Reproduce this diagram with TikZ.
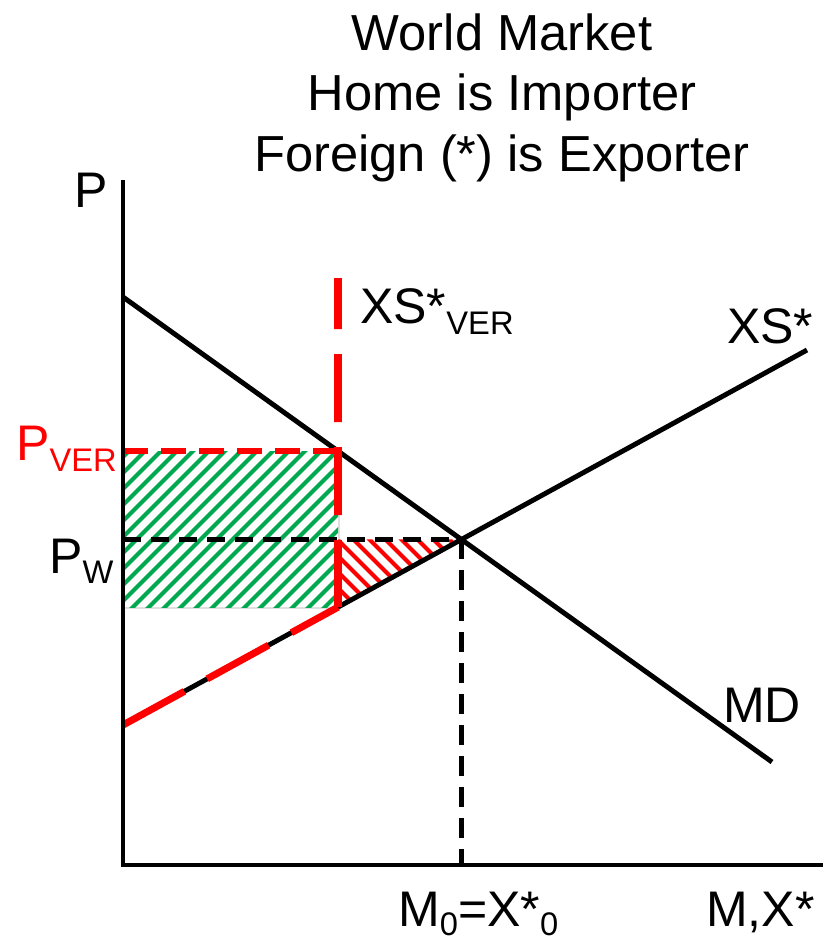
\documentclass[tikz,border=0pt]{standalone}
\usepackage{fontspec}
\setmainfont{Liberation Sans}
\definecolor{hgreen}{RGB}{0,168,80}
\definecolor{hred}{RGB}{255,0,0}
\newcommand{\subtxt}[2]{\raisebox{-#1}{\fontsize{24.5}{28}\selectfont #2}}
\begin{document}
\begin{tikzpicture}[x=0.75pt,y=-0.75pt,
  lbl/.style={inner sep=0pt,anchor=base west,font=\fontsize{37.5}{45}\selectfont},
  ttl/.style={inner sep=0pt,anchor=base,font=\fontsize{38}{46}\selectfont},
  curveline/.style={line width=3.7pt,black},
  axisline/.style={line width=3.6pt,black},
  blackdashH/.style={line width=3.8pt,black,dash pattern=on 13.5pt off 7.5pt},
  blackdashV/.style={line width=3.8pt,black,dash pattern=on 15pt off 8.25pt},
  reddashV/.style={line width=5.8pt,hred,dash pattern=on 51pt off 18.75pt,dash phase=12.75pt},
  reddashS/.style={line width=5.3pt,hred,dash pattern=on 52.5pt off 19.5pt},
  reddashH/.style={line width=4.5pt,hred,dash pattern=on 18.75pt off 9.75pt},
  greenhatch/.style={line width=3pt,hgreen},
  redhatch/.style={line width=3pt,hred}]
\useasboundingbox (0,0) rectangle (825,940);

% key points
\coordinate (O) at (123,865);
\coordinate (Ytop) at (123,180);
\coordinate (Xend) at (823,865);
\coordinate (MDa) at (123,297);
\coordinate (MDb) at (772,762);
\coordinate (XSa) at (123,725);
\coordinate (XSb) at (807,350);
\coordinate (V1) at (338,0);
\coordinate (V2) at (338,900);
\coordinate (E) at (intersection of MDa--MDb and XSa--XSb);
\coordinate (Vtop) at (338,278);
\coordinate (Vbot) at (intersection of V1--V2 and XSa--XSb);
\coordinate (Vmd) at (intersection of V1--V2 and MDa--MDb);
\coordinate (PverL) at (O |- Vmd);
\coordinate (PwL) at (O |- E);
\coordinate (Eb) at (E |- O);
\coordinate (VE) at (Vbot |- E);

% green hatched rectangle
\fill[gray!25] ([shift={(2,2)}]PverL) rectangle ([shift={(2,2)}]Vbot);
\fill[white] (PverL) rectangle (Vbot);
\begin{scope}
  \clip (PverL) rectangle (Vbot);
  \foreach \i in {-200,-184,...,360} {
    \draw[greenhatch] (\i,620) -- ++(180,-180);
  }
\end{scope}

% red hatched triangle
\begin{scope}
  \clip (VE) -- (E) -- (Vbot) -- cycle;
  \foreach \i in {200,216,...,480} {
    \draw[redhatch] (\i,530) -- ++(90,90);
  }
\end{scope}

% curves
\draw[curveline] (MDa) -- (MDb);
\draw[curveline] (XSa) -- (XSb);

% dashed guides
\draw[blackdashH] (PwL) -- (E);
\draw[blackdashV] (E) -- (Eb);
\draw[reddashS] (XSa) -- (Vbot);
\draw[reddashV] (Vtop) -- (Vbot);
\draw[reddashH] (Vmd) -- (PverL);

% axes
\draw[axisline] (Ytop) -- (O) -- (Xend);

% title
\node[ttl] (t1) at (502,50) {World Market};
\node[ttl] (t2) at (502,110) {Home is Importer};
\node[ttl] (t3) at (502,171) {Foreign (*) is Exporter};

% labels
\node[lbl] (Plab) at (74,207) {P};
\node[lbl] (XSVlab) at (360,323) {XS*\subtxt{8.25pt}{VER}};
\node[lbl] (XSlab) at (727,343) {XS*};
\node[lbl,text=hred] (Pverlab) at (16,460) {P\subtxt{8.25pt}{VER}};
\node[lbl] (Pwlab) at (49,573) {P\subtxt{7.5pt}{W}};
\node[lbl] (MDlab) at (723,722) {MD};
\node[lbl] (M0lab) at (398,926) {M\subtxt{6.75pt}{0}=X*\subtxt{6.75pt}{0}};
\node[lbl] (MXlab) at (706,926) {M,X*};
\end{tikzpicture}
\end{document}
